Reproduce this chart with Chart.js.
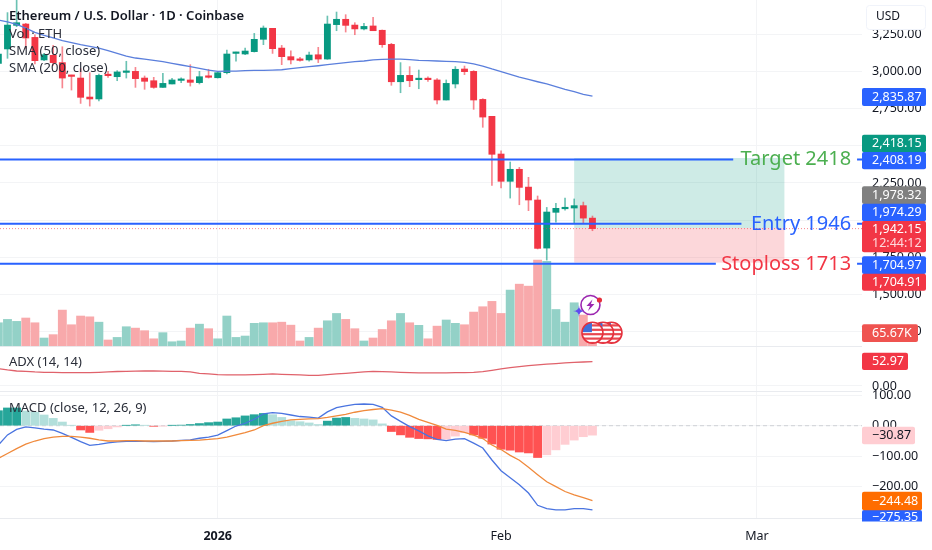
<!DOCTYPE html>
<html><head><meta charset="utf-8">
<style>html,body{margin:0;padding:0;background:#fff}#wrap{width:932px;height:550px}canvas{display:block}</style>
<script src="https://cdn.jsdelivr.net/npm/chart.js@4/dist/chart.umd.min.js"></script>
</head><body><div id="wrap"><canvas id="c" width="932" height="550"></canvas></div>
<script>
// day offsets from 1 Jan 2026
const days=[-24,-23,-22,-21,-20,-19,-18,-17,-16,-15,-14,-13,-12,-11,-10,-9,-8,-7,-6,-5,-4,-3,-2,-1,0,1,2,3,4,5,6,7,8,9,10,11,12,13,14,15,16,17,18,19,20,21,22,23,24,25,26,27,28,29,30,31,32,33,34,35,36,37,38,39,40,41];
const open=[3056,3153,3312,3321,3231,3079,3110,3061,2971,2957,2829,2816,2975,2966,2995,3002,2957,2939,2894,2917,2941,2944,2926,2968,2959,2993,3123,3119,3135,3218,3292,3159,3101,3081,3079,3114,3085,3317,3353,3314,3288,3308,3279,3184,2932,2975,2946,2950,2944,2809,2917,3018,3002,2813,2699,2445,2261,2342,2222,2135,1811,2052,2076,2081,2097,2013];
const high=[3135,3398,3483,3326,3249,3123,3177,3168,2977,3020,2993,2984,3002,3007,3070,3029,2971,2962,2989,2955,2959,3047,3002,3016,2996,3146,3132,3159,3258,3308,3292,3177,3141,3097,3132,3164,3375,3402,3384,3330,3326,3366,3281,3191,3061,3034,3011,2966,2953,2944,3034,3038,3007,2818,2699,2467,2391,2355,2288,2162,2085,2112,2148,2142,2121,2027];
const low=[3045,3090,3303,3157,3052,3074,3043,2890,2876,2786,2768,2802,2962,2939,2957,2894,2881,2888,2894,2917,2926,2903,2917,2957,2957,2984,3070,3114,3132,3182,3123,3047,3052,3070,3070,3061,3083,3276,3267,3249,3281,3276,3164,2908,2858,2899,2885,2935,2782,2809,2890,2980,2746,2625,2234,2216,2148,2103,2063,1805,1730,1986,2067,1980,1982,1928];
const close=[3119,3314,3330,3227,3074,3114,3061,2957,2968,2827,2816,2975,2973,2998,3002,2953,2935,2894,2921,2944,2944,2928,2966,2962,2993,3119,3128,3139,3218,3294,3155,3101,3079,3076,3112,3085,3321,3353,3312,3288,3305,3276,3182,2932,2975,2939,2948,2946,2809,2921,3016,3000,2809,2694,2443,2261,2342,2220,2135,1809,2054,2079,2083,2097,2013,1942.15];
const sma50=[3348,3335,3319,3294,3265,3245,3227,3209,3195,3182,3171,3159,3141,3123,3105,3092,3085,3076,3067,3056,3045,3034,3022,3011,3002,3004,3004,3007,3009,3009,3011,3013,3020,3027,3034,3040,3047,3054,3061,3067,3072,3079,3083,3085,3085,3081,3076,3074,3072,3070,3067,3063,3052,3038,3018,3000,2982,2964,2948,2932,2917,2899,2881,2865,2847,2835.87];
const volumeK=[116,133,123,140,116,39,56,180,106,150,146,119,29,42,96,89,76,35,66,20,24,89,109,86,35,150,42,49,113,116,116,119,104,24,42,89,126,163,133,86,24,39,82,126,163,116,103,35,99,130,113,106,170,197,224,163,281,311,301,433,426,183,119,217,155,65.67];
const adx=[37.8,34.9,32.7,32,30.6,29.8,29.5,29.1,29.1,29.1,29.1,29.8,30.6,31.6,32,32.4,32.7,32.7,32.4,32,32,30.6,27.7,26.2,24.8,24,24,24,24.8,25.5,26.2,25.5,24.8,24,23.3,23.3,24.8,26.2,27.7,29.1,30.6,32,31.3,30.6,29.8,29.1,28.4,28.4,28.4,28.4,29.1,29.1,29.8,31.3,34.2,37.1,40,42.2,44.4,45.8,47.5,48.9,50.2,51.6,52.3,52.97];
const macdLine=[-63,-30,-12,-4,-7,-11,-14,-25,-38,-52,-64,-61,-56,-53,-51,-51,-51,-52,-51,-50,-48,-46,-41,-37,-31,-16,-1,8,21,39,43,40,35,30,28,25,45,59,65,70,71,70,60,32,14,-3,-17,-33,-45,-49,-44,-42,-57,-73,-112,-147,-170,-193,-220,-260,-271,-275,-275,-271,-271,-275.35];
const signalLine=[-107,-91,-75,-60,-50,-42,-37,-35,-35,-37,-41,-46,-50,-50,-49,-49,-50,-50,-50,-50,-49,-48,-47,-45,-42,-37,-30,-23,-14,0,8,14,19,21,22,23,27,32,37,44,49,53,56,51,44,34,21,11,1,-11,-15,-22,-31,-42,-63,-78,-97,-113,-136,-160,-183,-199,-215,-226,-235,-244.48];
const macdHist=[49,58,58,48,44,35,24,12,1,-14,-22,-15,-10,-4,1,3,1,-2,-1,1,2,4,7,10,12,22,26,32,36,40,36,27,16,13,9,4,15,25,27,24,22,19,6,-19,-30,-38,-42,-43,-45,-44,-34,-23,-30,-41,-60,-77,-80,-86,-89,-104,-95,-79,-61,-47,-36,-30.87];
const priceTicks=[3250,3000,2750,2500,2250,2000,1750,1500,1250];
const adxTicks=[0];
const macdTicks=[100,0,-100,-200];
const dateTickDays=[0,31,59];
const dateTickLabels=["2026","Feb","Mar"];
const levelValues=[2408.19,1974.29,1704.97];
const levelNames=["Target 2418","Entry 1946","Stoploss 1713"];
const lastPrice=1942.15;
const entry=1946, target=2418, stop=1713;
const boxDays=[39,62];
const legendTop=["Ethereum / U.S. Dollar · 1D · Coinbase","Vol · ETH","SMA (50, close)","SMA (200, close)"];
const tagTexts=["2,835.87","2,418.15","2,408.19","1,978.32","1,974.29","1,942.15","12:44:12","1,704.97","1,704.91","65.67K","52.97","−30.87","−244.48","−275.35"];

// ---- layout / style ----
const XMIN=-23.82,XMAX=70.49,FONT='"Noto Sans",sans-serif';
const RED='#f23645',GREEN='#089981',BLUE='#2962ff',GRID='#f3f4f6';
const levelColors=['#4caf50',BLUE,RED];
const gapDays=[[56.4,69.95],[57.3,69.95],[54.5,69.95]];
const zero=s=>{s.paddingTop=0;s.paddingBottom=0;s.paddingLeft=0;s.paddingRight=0;};
const fitY=s=>{s.width=70;zero(s);};
const fmt=v=>{const a=Math.abs(v).toLocaleString('en-US',{minimumFractionDigits:2,maximumFractionDigits:2});return (v<0?'−':'')+a;};
const isUp=i=>close[i]>=open[i];
const histColor=i=>{const h=macdHist[i],p=i?macdHist[i-1]:h;return h>=0?(h>=p?'#26a69a':'#b2dfdb'):(h<p?'#ff5252':'#ffcdd2');};

const yAxis=(stackWeight,min,max,ticks,weight)=>({
  type:'linear',position:'right',stack:'panes',stackWeight,weight,min,max,
  afterBuildTicks:s=>{s.ticks=ticks.map(v=>({value:v}));},
  afterFit:fitY,
  border:{display:false},
  grid:{color:GRID,drawTicks:false,lineWidth:1},
  ticks:{padding:10,color:'#131722',font:{family:FONT,size:12.5},callback:v=>fmt(v),autoSkip:false,maxRotation:0}
});

const pts=a=>a.map((v,i)=>({x:days[i],y:v}));
const levelData=k=>[{x:XMIN,y:levelValues[k]},{x:gapDays[k][0],y:levelValues[k]},{x:gapDays[k][0],y:null},{x:gapDays[k][1],y:levelValues[k]},{x:XMAX,y:levelValues[k]}];
const lineDs=(data,yAxisID,color,order,width=1.3,extra={})=>Object.assign({type:'line',data,yAxisID,xAxisID:'x',borderColor:color,borderWidth:width,pointRadius:0,tension:0,fill:false,order,spanGaps:false},extra);

const underlay={id:'underlay',beforeDatasetsDraw(ch){
  const c=ch.ctx,x=ch.scales.x,y=ch.scales.y;
  const x0=x.getPixelForValue(boxDays[0]),x1=x.getPixelForValue(boxDays[1]);
  c.save();
  c.fillStyle='rgba(8,153,129,0.2)';c.fillRect(x0,y.getPixelForValue(target),x1-x0,y.getPixelForValue(entry)-y.getPixelForValue(target));
  c.fillStyle='rgba(242,54,69,0.2)';c.fillRect(x0,y.getPixelForValue(entry),x1-x0,y.getPixelForValue(stop)-y.getPixelForValue(entry));
  c.strokeStyle='#e9ebef';c.lineWidth=1;
  ['y','yAdx','yMacd'].forEach(k=>{const s=ch.scales[k];c.beginPath();c.moveTo(0,Math.round(s.bottom)+.5);c.lineTo(ch.chartArea.right,Math.round(s.bottom)+.5);c.stroke();});
  c.restore();
}};

function flag(c,cx,cy,r){
  c.save();c.beginPath();c.arc(cx,cy,r,0,Math.PI*2);c.fillStyle='#fff';c.fill();c.clip();
  c.fillStyle='#e8474f';for(let k=-2;k<3;k++){c.fillRect(cx-r,cy+k*4.4+0.4,2*r,2.2);}
  c.fillStyle='#3f6fd8';c.fillRect(cx-r,cy-r,r*.95,r*.95);
  c.restore();
  c.beginPath();c.arc(cx,cy,r,0,Math.PI*2);c.strokeStyle='#e5303c';c.lineWidth=1.6;c.stroke();
}
const overlay={id:'overlay',afterDraw(ch){
  const c=ch.ctx,x=ch.scales.x,y=ch.scales.y,L=9;
  c.save();c.textBaseline='middle';c.textAlign='left';
  // pane legends
  c.fillStyle='#131722';
  c.font='600 13px '+FONT;c.fillText(legendTop[0],L,16.5);
  c.font='13px '+FONT;c.fillStyle='#2a2e39';
  c.fillText(legendTop[1],L,34);c.fillText(legendTop[2],L,51);c.fillText(legendTop[3],L,68.5);
  c.fillText('ADX (14, 14)',L,362);c.fillText('MACD (close, 12, 26, 9)',L,408);
  // level captions
  c.font='20px '+FONT;c.textAlign='right';
  levelNames.forEach((n,k)=>{c.fillStyle=levelColors[k];c.fillText(n,x.getPixelForValue(69.3),y.getPixelForValue(levelValues[k]));});
  // icons
  const ix=x.getPixelForValue(days[days.length-1]);
  [19,10.5,0].forEach(d=>flag(c,ix+d,332.7,10.5));
  c.beginPath();c.arc(ix-2,305,9.5,0,Math.PI*2);c.strokeStyle='#9c27b0';c.lineWidth=1.6;c.stroke();
  c.fillStyle='#e5303c';c.beginPath();c.arc(ix+7,300,2.6,0,Math.PI*2);c.fill();
  c.fillStyle='#9c27b0';c.beginPath();c.moveTo(ix,299.5);c.lineTo(ix-6,306);c.lineTo(ix-2.5,306);c.lineTo(ix-4.5,311);c.lineTo(ix+2,304);c.lineTo(ix-1.5,304);c.closePath();c.fill();
  c.fillStyle='#5f4bf0';c.beginPath();const sx=ix-13.5,sy=311;
  c.moveTo(sx,sy-6);c.quadraticCurveTo(sx,sy,sx+6,sy);c.quadraticCurveTo(sx,sy,sx,sy+6);c.quadraticCurveTo(sx,sy,sx-6,sy);c.quadraticCurveTo(sx,sy,sx,sy-6);c.fill();
  // axis tags
  const X=862;
  const tag=(top,bot,w,bg,fg,texts,ys)=>{
    c.fillStyle=bg;c.beginPath();c.roundRect(X,top,w,bot-top,2);c.fill();
    c.fillStyle=fg;c.textAlign='left';c.font='12.5px '+FONT;
    texts.forEach((t,k)=>c.fillText(t,X+10,ys[k]));
  };
  c.save();c.beginPath();c.rect(X-1,0,72,ch.chartArea.bottom+3.5);c.clip();
  tag(510,530,60,BLUE,'#fff',[tagTexts[13]],[517]);
  tag(88,106,64,BLUE,'#fff',[tagTexts[0]],[97]);
  tag(134.7,152.2,64,GREEN,'#fff',[tagTexts[1]],[143.5]);
  tag(152,169.3,64,BLUE,'#fff',[tagTexts[2]],[160.5]);
  tag(186.3,203.9,64,'#808080','#fff',[tagTexts[3]],[195]);
  tag(203.7,221.2,64,BLUE,'#fff',[tagTexts[4]],[212.5]);
  tag(221,252.3,64,RED,'#fff',[tagTexts[5]],[229.5]);
  c.fillStyle='#ffd9dc';c.fillText(tagTexts[6],X+10,243.5);
  tag(256.3,273.9,64,BLUE,'#fff',[tagTexts[7]],[265]);
  tag(273.7,290.7,64,RED,'#fff',[tagTexts[8]],[282]);
  tag(324.3,342,56,'#ef5350','#fff',[tagTexts[9]],[333.5]);
  tag(352.7,370,46,RED,'#fff',[tagTexts[10]],[361.5]);
  tag(426.7,444.3,53,'#ffcdd2','#131722',[tagTexts[11]],[435.5]);
  tag(491.7,510.2,60,'#ff6d00','#fff',[tagTexts[12]],[501]);
  c.restore();
  // currency button
  c.fillStyle='#fff';c.strokeStyle='#f0f3fa';c.lineWidth=1;c.beginPath();c.roundRect(866.5,5.5,59,24,3);c.fill();c.stroke();
  c.fillStyle='#131722';c.textAlign='left';c.font='12px '+FONT;c.fillText('USD',876,17);
  c.restore();
}};

new Chart(document.getElementById('c'),{
  data:{datasets:[
    {type:'bar',label:'vol',data:pts(volumeK),yAxisID:'yVol',xAxisID:'x',grouped:false,barThickness:8.2,order:20,
      backgroundColor:volumeK.map((v,i)=>isUp(i)?'#93d1c7':'#f8a9ab')},
    lineDs([{x:XMIN,y:0},{x:XMAX,y:0}],'yMacd','#cfd1d6',19,1,{borderDash:[4,3]}),
    {type:'bar',label:'hist',data:pts(macdHist),yAxisID:'yMacd',xAxisID:'x',grouped:false,barThickness:8.2,order:18,
      backgroundColor:macdHist.map((v,i)=>histColor(i))},
    {type:'bar',label:'wick',data:days.map((d,i)=>({x:d,y:[low[i],high[i]]})),yAxisID:'y',xAxisID:'x',grouped:false,barThickness:1,order:15,
      backgroundColor:days.map((d,i)=>isUp(i)?'rgba(8,153,129,.6)':'rgba(242,54,69,.6)')},
    {type:'bar',label:'body',data:days.map((d,i)=>({x:d,y:[open[i],close[i]]})),yAxisID:'y',xAxisID:'x',grouped:false,barThickness:6.2,minBarLength:1.5,order:14,
      backgroundColor:days.map((d,i)=>isUp(i)?GREEN:RED)},
    lineDs([{x:XMIN,y:lastPrice},{x:XMAX,y:lastPrice}],'y','rgba(242,54,69,.6)',13,1,{borderDash:[1,2]}),
    lineDs(pts(sma50),'y','#5b7fdc',12,1.3),
    lineDs(levelData(0),'y',BLUE,5,2),
    lineDs(levelData(1),'y',BLUE,5,2),
    lineDs(levelData(2),'y',BLUE,5,2),
    lineDs(pts(adx),'yAdx','#e0626b',10,1.3),
    lineDs(pts(macdLine),'yMacd','#4a74e0',9,1.3),
    lineDs(pts(signalLine),'yMacd','#f08a3c',8,1.3)
  ]},
  options:{
    responsive:false,animation:false,devicePixelRatio:1,
    layout:{padding:0},
    plugins:{legend:{display:false},tooltip:{enabled:false}},
    scales:{
      x:{type:'linear',min:XMIN,max:XMAX,position:'bottom',offset:false,
        afterBuildTicks:s=>{s.ticks=dateTickDays.map(v=>({value:v}));},
        afterFit:s=>{s.height=32;zero(s);},
        border:{display:false},
        grid:{color:GRID,drawTicks:false,offset:false},
        ticks:{padding:11,autoSkip:false,maxRotation:0,color:'#131722',
          font:c=>({family:FONT,size:12.5,weight:c.index===0?'700':'400'}),
          callback:(v)=>dateTickLabels[dateTickDays.indexOf(v)]}},
      y:yAxis(346,1151,3483,priceTicks,1),
      yAdx:yAxis(45,-10.9,87.1,adxTicks,2),
      yMacd:yAxis(127,-301.6,113.4,macdTicks,3),
      yVol:{type:'linear',position:'right',display:false,min:-870,max:1746,weight:4}
    }
  },
  plugins:[underlay,overlay]
});
</script></body></html>
